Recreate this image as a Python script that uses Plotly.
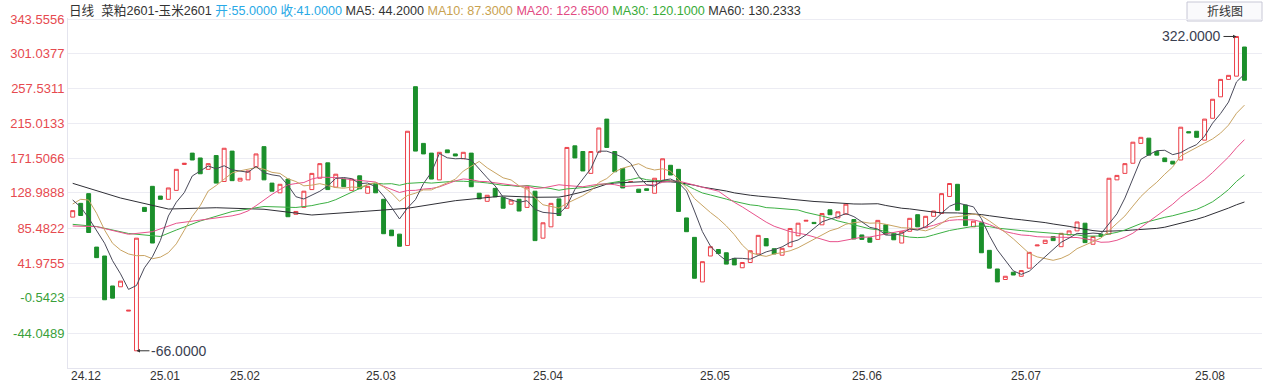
import plotly.graph_objects as go
import pandas as pd

# ---------------- data ----------------
opens = [99, 116, 128, 62, 51, 14, 13, -17, -66, 111,
         137, 125, 121, 132, 164, 178, 172, 158, 175, 143,
         180.5, 143.5, 145, 161, 186, 141, 129, 146, 102.5, 111,
         133, 147, 166, 136, 146, 132, 150, 128.5, 139.5, 121,
         83, 78, 64, 260, 190, 178, 145, 182, 177, 171,
         178, 128.5, 118.5, 134.5, 123.5, 115, 121, 111, 131, 73,
         87, 121.5, 110, 187, 180, 153, 179, 220, 180, 159,
         143, 133.5, 134, 128.5, 144, 163, 158, 98, 74, 19,
         51, 59, 55, 48, 36.5, 43, 53.5, 72.5, 60, 52,
         62.5, 76, 94, 92.5, 89.5, 108, 98, 102.5, 96, 77,
         73.5, 71.5, 89.5, 79, 67, 81.5, 102, 86, 100, 103.5,
         124.5, 139.5, 114, 87, 92, 58, 35, 22, 31, 26,
         36, 63.5, 66.5, 75, 62.5, 77, 82, 91.5, 65.5, 78,
         78, 145, 153, 165.5, 190, 196.5, 180, 172, 168, 169.5,
         204.5, 205, 194, 221, 247.5, 269, 273, 309]
closes = [107, 101, 80, 49, -3, -1, 20, -16, 73, 106,
          67, 121, 135, 158, 165.5, 169.5, 152.5, 165, 141, 184,
          144, 147, 156, 177, 145, 131, 139.5, 99.5, 106, 131,
          153, 165, 133, 152, 136.5, 146, 134, 137, 129, 78.5,
          76, 63, 205, 180.5, 177, 146, 179, 178.5, 174.5, 179,
          136.5, 121.5, 126, 124, 110, 120, 106.5, 136, 70, 92,
          116, 101, 185, 172, 156, 180, 209, 185, 155, 135,
          143, 129.5, 132, 147, 171, 151, 106, 81, 23.5, 44,
          62.5, 54, 41, 40, 43, 57.5, 76.5, 63.5, 53.5, 60.5,
          85, 91.5, 95, 91, 103.5, 102, 105.5, 115, 72, 71.5,
          68, 95, 78, 71, 81, 97.5, 87, 100, 106.5, 128,
          140.5, 107.5, 88.5, 94, 55, 36, 19, 26, 27.5, 33,
          55.5, 64.5, 70.5, 70, 79, 82, 93, 67.5, 75, 75,
          147, 150.5, 165, 191.5, 197.5, 175.5, 175.5, 167.5, 164.5, 210,
          203, 197.5, 220, 244.5, 269, 274, 322, 268]

ma5_head_idx = [0, 1, 2, 3]
ma5_head_val = [120.1, 111.5, 97.9, 81.9]
ma10_head_idx = [0, 1, 2, 3, 4, 5, 6, 7, 8]
ma10_head_val = [115.2, 121.0, 120.1, 103.7, 83.1, 66.7, 58.4, 53.5, 51.4]
ma20_head_idx = [0, 3, 7, 10, 13, 16, 18]
ma20_head_val = [88.0, 87.2, 77.8, 81.0, 91.4, 95.4, 97.9]
ma30_head_idx = [0, 3, 7, 11, 13, 16, 20, 24, 28]
ma30_head_val = [90.1, 87.4, 78.8, 75.1, 83.1, 94.2, 105.9, 112.1, 110.9]
ma60_head_idx = [0, 6, 12, 18, 24, 30, 36, 42, 48, 54, 58]
ma60_head_val = [140.7, 122.6, 109.0, 110.6, 108.7, 101.6, 105.7, 109.9, 119.3, 125.1, 123.5]

month_labels = ["24.12", "25.01", "25.02", "25.03", "25.04", "25.05", "25.06", "25.07", "25.08"]
month_start_idx = [0, 10, 20, 37, 58, 79, 98, 118, 141]

ytick_vals = [343.5556, 301.0377, 257.5311, 215.0133, 171.5066, 128.9888,
              85.4822, 41.9755, -0.5423, -44.0489]
ytick_text = ["343.5556", "301.0377", "257.5311", "215.0133", "171.5066", "128.9888",
              "85.4822", "41.9755", "-0.5423", "-44.0489"]

high_label = "322.0000"
low_label = "-66.0000"

# ---------------- styling ----------------
RED = "#ec3f48"
GREEN = "#1b8f2b"
MA_COLORS = {5: "#4a4a5a", 10: "#c9a463", 20: "#e8528c", 30: "#3cb043", 60: "#2f2f36"}
FONT = "Liberation Sans, Arial, Noto Sans CJK SC, sans-serif"

n = len(closes)
idx = list(range(n))
highs = [max(o, c) for o, c in zip(opens, closes)]
lows = [min(o, c) for o, c in zip(opens, closes)]

fig = go.Figure()
fig.add_trace(go.Candlestick(
    x=idx, open=opens, high=highs, low=lows, close=closes,
    increasing=dict(line=dict(color=RED, width=1), fillcolor="white"),
    decreasing=dict(line=dict(color=GREEN, width=1), fillcolor=GREEN),
    whiskerwidth=0, hoverinfo="skip", showlegend=False,
))

cs = pd.Series(closes, dtype=float)
heads = {5: (ma5_head_idx, ma5_head_val), 10: (ma10_head_idx, ma10_head_val),
         20: (ma20_head_idx, ma20_head_val), 30: (ma30_head_idx, ma30_head_val),
         60: (ma60_head_idx, ma60_head_val)}
for w in [60, 30, 20, 10, 5]:
    roll = cs.rolling(w).mean()
    hx, hv = heads[w]
    xs = list(hx) + list(range(w - 1, n))
    ys = list(hv) + list(roll.iloc[w - 1:])
    fig.add_trace(go.Scatter(x=xs, y=ys, mode="lines",
                             line=dict(color=MA_COLORS[w], width=1),
                             hoverinfo="skip", showlegend=False))

# x labels, left aligned at the first bar of each month
annotations = []
for lab, i in zip(month_labels, month_start_idx):
    annotations.append(dict(x=i, y=-0.0229, xref="x", yref="paper", text=lab,
                            showarrow=False, xanchor="left", yanchor="middle", xshift=-4,
                            font=dict(family=FONT, size=12, color="#333333")))

# extreme-value markers
i_hi = closes.index(max(closes))
i_lo = opens.index(min(opens))
annotations.append(dict(x=i_hi, y=max(highs), text=high_label, showarrow=True,
                        ax=-13, ay=0, xanchor="right", arrowhead=2, arrowsize=0.7,
                        arrowwidth=1, arrowcolor="#333333", standoff=0,
                        font=dict(family=FONT, size=14, color="#3a4050")))
annotations.append(dict(x=i_lo, y=min(lows), text=low_label, showarrow=True,
                        ax=13, ay=0, xanchor="left", arrowhead=2, arrowsize=0.7,
                        arrowwidth=1, arrowcolor="#333333", standoff=0,
                        font=dict(family=FONT, size=14, color="#3a4050")))

# header line
header = ('<span style="color:#333333">日线</span>  '
          '<span style="color:#333333">菜粕2601-玉米2601</span> '
          '<span style="color:#29a9e6">开:55.0000 收:41.0000</span> '
          '<span style="color:#333333">MA5: 44.2000</span> '
          '<span style="color:#c9a24f">MA10: 87.3000</span> '
          '<span style="color:#e24a82">MA20: 122.6500</span> '
          '<span style="color:#38ab38">MA30: 120.1000</span> '
          '<span style="color:#333333">MA60: 130.2333</span>')
annotations.append(dict(x=0, y=1.0214, xref="paper", yref="paper", text=header,
                        showarrow=False, xanchor="left", yanchor="middle", xshift=-1,
                        font=dict(family=FONT, size=12.6, color="#333333")))
annotations.append(dict(x=0.9686, y=1.019, xref="paper", yref="paper", text="折线图",
                        showarrow=False, xanchor="center", yanchor="middle",
                        font=dict(family=FONT, size=12, color="#333333")))

shapes = [dict(type="rect", xref="paper", yref="paper", x0=0.9372, x1=1.0, y0=0.9914, y1=1.0457,
               line=dict(color="#c8c8d6", width=1), fillcolor="#fafafc", layer="below")]

ytext = []
for v, t in zip(ytick_vals, ytick_text):
    col = "#e64a4f" if v > 0 else "#3a9f3a"
    ytext.append('<span style="color:%s">%s</span>' % (col, t))

fig.update_layout(
    width=1269, height=383,
    margin=dict(l=68, r=7, t=18, b=15, autoexpand=False),
    paper_bgcolor="white", plot_bgcolor="white",
    showlegend=False,
    annotations=annotations, shapes=shapes,
    xaxis=dict(range=[-0.59, 149.2], showgrid=False, zeroline=False, automargin=False,
               showticklabels=False, ticks="", rangeslider=dict(visible=False),
               showline=True, linecolor="#e4e4ee", linewidth=1, mirror=False),
    yaxis=dict(range=[-87.25, 344.8], tickvals=ytick_vals, ticktext=ytext,
               showgrid=True, gridcolor="#ececf3", gridwidth=1, zeroline=False,
               ticks="", ticklabelstandoff=0, automargin=False,
               tickfont=dict(family=FONT, size=13, color="#e64a4f"),
               showline=True, linecolor="#e4e4ee", linewidth=1),
    font=dict(family=FONT),
)

fig.write_html("out.html", config={"displayModeBar": False},
               post_script="document.body.style.margin='0';document.body.style.padding='0';")
